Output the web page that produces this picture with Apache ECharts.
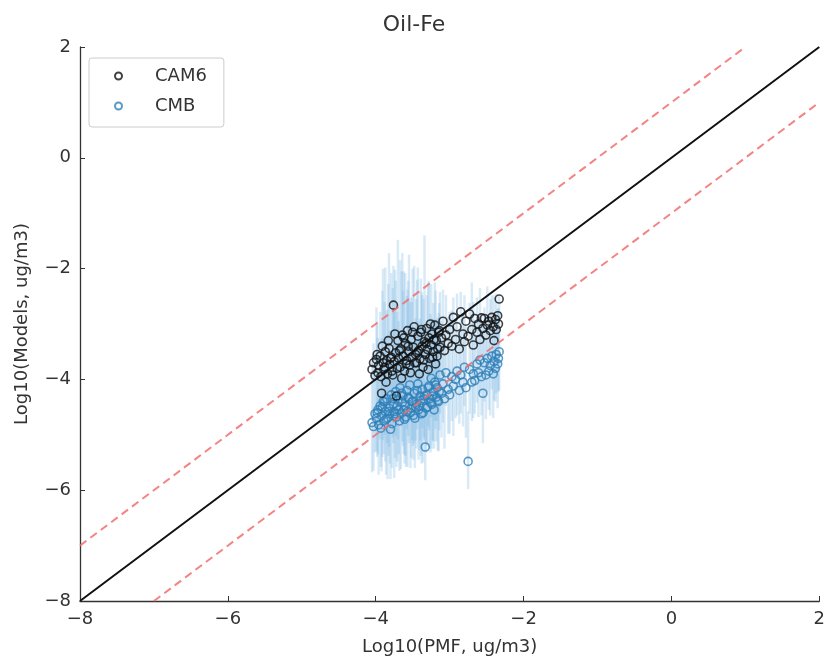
<!DOCTYPE html>
<html>
<head>
<meta charset="utf-8">
<title>Oil-Fe</title>
<script src="https://cdn.jsdelivr.net/npm/echarts@6/dist/echarts.min.js"></script>
<style>
  html, body { margin: 0; padding: 0; background: #fff; }
  #chart { width: 828px; height: 663px; }
</style>
</head>
<body>
<div id="chart"></div>
<script>
// Log10 of PMF-derived oil Fe (one entry per sample)
const pmfLog = [
  -4.05, -4.03, -4.01, -3.99, -3.97, -3.96, -3.94, -3.92, -3.90, -3.89,
  -3.87, -3.85, -3.84, -3.82, -3.81, -3.79, -3.78, -3.76, -3.75, -3.73,
  -3.72, -3.70, -3.69, -3.67, -3.66, -3.64, -3.63, -3.61, -3.60, -3.58,
  -3.57, -3.55, -3.54, -3.52, -3.51, -3.49, -3.48, -3.46, -3.45, -3.43,
  -3.42, -3.40, -3.39, -3.37, -3.36, -3.34, -3.33, -3.31, -3.30, -3.28,
  -3.27, -3.25, -3.24, -3.22, -3.20, -3.18, -3.17, -3.15, -3.13, -3.11,
  -3.09, -3.07, -3.05, -3.02, -3.00, -2.97, -2.95, -2.92, -2.90, -2.87,
  -2.85, -2.82, -2.80, -2.78, -2.75, -2.73, -2.70, -2.68, -2.66, -2.63,
  -2.61, -2.59, -2.57, -2.55, -2.53, -2.51, -2.49, -2.47, -2.45, -2.43,
  -2.41, -2.40, -2.38, -2.37, -2.35, -2.34, -2.33,
  -3.98, -3.93, -3.91, -3.88, -3.86, -3.83, -3.80, -3.77, -3.74, -3.71,
  -3.68, -3.65, -3.62, -3.59, -3.56, -3.53, -3.50, -3.47, -3.44, -3.41,
  -3.38, -3.35, -3.32, -3.29, -3.26, -3.23, -3.21, -3.19, -3.16, -3.14
];

// Log10 of CAM6 modelled oil Fe
const cam6Log = [
  -3.82, -3.70, -3.93, -3.64, -3.88, -3.75, -3.58, -4.25, -3.70, -3.82,
  -3.50, -3.66, -3.90, -3.44, -3.73, -3.60, -3.85, -2.66, -3.68, -3.52,
  -4.30, -3.30, -3.62, -3.78, -3.45, -3.20, -3.58, -3.85, -3.35, -3.66,
  -3.12, -3.50, -3.74, -3.28, -3.60, -3.42, -3.05, -3.55, -3.70, -3.22,
  -3.48, -3.63, -3.15, -3.40, -3.78, -3.32, -3.55, -3.08, -3.46, -3.25,
  -3.62, -3.38, -3.18, -3.50, -3.02, -3.30, -3.58, -3.15, -3.42, -3.25,
  -2.95, -3.48, -3.20, -3.35, -3.10, -3.40, -2.88, -3.28, -3.05, -3.45,
  -2.78, -3.18, -3.32, -2.95, -3.22, -2.82, -3.10, -3.38, -2.90, -3.15,
  -3.00, -3.28, -2.89, -3.08, -2.90, -3.20, -3.02, -2.95, -3.12, -2.88,
  -3.05, -3.30, -2.92, -3.10, -2.85, -3.00, -2.55,
  -3.55, -3.95, -3.40, -3.78, -4.05, -3.30, -3.62, -3.92, -3.18, -3.80,
  -3.48, -3.98, -3.25, -3.72, -3.40, -3.88, -3.15, -3.70, -3.52, -3.90,
  -3.10, -3.65, -3.35, -3.82, -3.00, -3.60, -3.28, -3.72, -3.45, -3.12
];

// Log10 of CMB-derived oil Fe
const cmbLog = [
  -4.78, -4.85, -4.62, -4.70, -4.55, -4.82, -4.48, -4.66, -4.40, -4.75,
  -4.58, -4.35, -4.70, -4.52, -4.62, -4.28, -4.80, -4.45, -4.58, -4.22,
  -4.68, -4.38, -4.55, -4.15, -4.62, -4.42, -4.30, -4.72, -4.48, -4.20,
  -4.58, -4.35, -4.10, -4.52, -4.40, -4.65, -4.25, -4.50, -4.45, -4.08,
  -4.55, -4.30, -4.38, -4.18, -4.60, -4.30, -5.22, -4.28, -4.50, -4.12,
  -4.35, -3.98, -4.45, -4.22, -4.05, -4.32, -4.15, -4.40, -3.92, -4.25,
  -4.08, -4.35, -3.88, -4.18, -4.28, -3.95, -4.12, -4.00, -3.85, -4.20,
  -3.92, -4.05, -3.78, -4.15, -5.48, -3.82, -4.05, -3.90, -4.02, -3.72,
  -3.88, -3.65, -3.95, -4.25, -3.70, -3.92, -3.62, -3.85, -3.75, -3.58,
  -3.90, -3.68, -3.80, -3.55, -3.72, -3.62, -3.50,
  -4.60, -4.88, -4.50, -4.40, -4.72, -4.58, -4.90, -4.35, -4.62, -4.48,
  -4.75, -4.25, -4.55, -4.68, -4.32, -4.60, -4.40, -4.70, -4.20, -4.48,
  -4.62, -4.35, -4.52, -4.15, -4.42, -4.30, -4.55, -4.10, -4.38, -4.22
];

// Upper and lower error-bar lengths on the CMB values (log10 units)
const cmbErrUp = [
  1.2, 1.5, 1.1, 2.0, 1.3, 1.0, 1.7, 1.4, 2.4, 1.2,
  2.6, 1.6, 1.1, 2.8, 1.5, 2.2, 1.0, 2.5, 1.8, 2.0,
  1.3, 2.9, 1.6, 2.3, 1.4, 2.7, 1.9, 1.2, 2.4, 1.7,
  2.2, 2.6, 1.5, 2.0, 1.8, 1.3, 2.3, 1.6, 1.9, 2.1,
  1.6, 1.4, 2.2, 1.7, 1.3, 2.9, 1.2, 1.8, 1.4, 1.9,
  1.3, 1.7, 1.5, 1.6, 1.8, 1.4, 1.2, 1.6, 1.5, 1.3,
  1.7, 1.2, 1.4, 1.3, 1.5, 1.2, 1.6, 1.1, 1.4, 1.0,
  1.5, 1.2, 1.3, 1.1, 0.9, 1.2, 1.8, 1.3, 1.1, 1.2,
  1.0, 1.3, 1.1, 1.2, 1.0, 1.1, 1.3, 1.0, 1.2, 1.1,
  1.0, 1.2, 0.9, 1.1, 1.0, 0.9, 1.0,
  1.6, 1.3, 2.1, 1.8, 1.5, 2.3, 1.2, 2.0, 2.6, 1.7,
  1.4, 2.2, 2.5, 1.5, 2.1, 1.3, 2.4, 1.6, 2.0, 1.4,
  2.2, 1.8, 1.5, 1.9, 1.6, 1.4, 1.3, 1.7, 1.5, 1.6
];
const cmbErrDown = [
  0.9, 0.8, 0.7, 0.6, 0.8, 0.9, 0.6, 1.0, 0.7, 0.6,
  0.9, 0.8, 1.1, 0.7, 0.9, 0.6, 0.8, 0.7, 1.2, 0.8,
  0.9, 0.7, 0.8, 0.6, 1.0, 0.7, 0.9, 0.8, 0.9, 0.7,
  1.0, 0.8, 0.6, 0.9, 0.7, 0.8, 0.9, 0.6, 0.8, 0.7,
  0.9, 0.8, 1.0, 0.7, 0.9, 0.8, 0.6, 0.9, 0.7, 0.8,
  0.9, 0.7, 0.8, 0.9, 0.7, 0.8, 0.6, 0.9, 0.7, 0.8,
  0.7, 0.9, 0.6, 0.8, 0.7, 0.8, 0.9, 0.7, 0.8, 0.6,
  0.7, 0.8, 0.7, 0.9, 0.5, 0.8, 0.7, 0.8, 0.6, 0.7,
  0.8, 0.6, 0.7, 0.9, 0.7, 0.8, 0.6, 0.7, 0.9, 0.6,
  0.8, 0.7, 0.6, 0.7, 0.8, 0.6, 0.7,
  0.8, 0.7, 0.9, 0.6, 1.0, 0.8, 0.9, 0.7, 0.8, 1.0,
  0.9, 0.6, 0.8, 0.9, 0.7, 1.0, 0.8, 0.9, 0.7, 0.8,
  0.9, 0.7, 0.8, 0.7, 0.9, 0.8, 0.7, 0.8, 0.9, 0.7
];

// Axis range and ticks (both axes share them)
const axisMin = -8;
const axisMax = 2;
const tickStep = 2;

const cam6Points = pmfLog.map((x, i) => [x, cam6Log[i]]);
const cmbPoints = pmfLog.map((x, i) => [x, cmbLog[i]]);
const cmbBars = pmfLog.map((x, i) => [x, cmbLog[i] - cmbErrDown[i], cmbLog[i] + cmbErrUp[i]]);

const fontFamily = 'DejaVu Sans, sans-serif';
const textColor = '#333';
const chart = echarts.init(document.getElementById('chart'), null, { renderer: 'canvas' });

// Tick labels use a true minus sign
const tickFormatter = v => String(v).replace('-', '\u2212');

function refLine(name, offset, style) {
  // y = x + offset, clipped to the plotting range
  const x0 = Math.max(axisMin, axisMin - offset);
  const x1 = Math.min(axisMax, axisMax - offset);
  return {
    name: name,
    type: 'line',
    data: [[x0, x0 + offset], [x1, x1 + offset]],
    symbol: 'none',
    silent: true,
    z: 5,
    lineStyle: style,
    animation: false
  };
}

const axisCommon = {
  type: 'value',
  min: axisMin,
  max: axisMax,
  interval: tickStep,
  splitLine: { show: false },
  axisLine: { show: true, onZero: false, lineStyle: { color: '#333', width: 1.3 } },
  axisTick: { show: true, inside: true, length: 5, lineStyle: { color: '#333', width: 1 } },
  axisLabel: { color: textColor, fontSize: 18, fontFamily: fontFamily, margin: 9, formatter: tickFormatter },
  nameLocation: 'middle',
  nameTextStyle: { color: textColor, fontSize: 18, fontFamily: fontFamily }
};

chart.setOption({
  animation: false,
  backgroundColor: '#fff',
  title: {
    text: 'Oil-Fe',
    left: 'center',
    top: 9,
    textStyle: { color: textColor, fontSize: 22, fontWeight: 'normal', fontFamily: fontFamily }
  },
  grid: { left: 80, right: 6, top: 47, bottom: 62, containLabel: false },
  xAxis: Object.assign({}, axisCommon, {
    name: 'Log10(PMF, ug/m3)',
    nameGap: 37
  }),
  yAxis: Object.assign({}, axisCommon, {
    name: 'Log10(Models, ug/m3)',
    nameGap: 49
  }),
  legend: {
    left: 89,
    top: 58,
    orient: 'vertical',
    data: ['CAM6', 'CMB'],
    itemWidth: 7,
    itemHeight: 7,
    itemGap: 12,
    padding: [9, 17, 12, 25],
    borderColor: '#ccc',
    borderWidth: 1,
    borderRadius: 3,
    backgroundColor: '#fff',
    textStyle: { color: textColor, fontSize: 18, fontFamily: fontFamily, padding: [0, 0, 0, 28] }
  },
  series: [
    {
      name: 'CMB error',
      type: 'custom',
      data: cmbBars,
      z: 1,
      silent: true,
      renderItem: function (params, api) {
        const top = api.coord([api.value(0), api.value(2)]);
        const bottom = api.coord([api.value(0), api.value(1)]);
        return {
          type: 'line',
          shape: { x1: top[0], y1: top[1], x2: bottom[0], y2: bottom[1] },
          style: { stroke: 'rgba(120,180,225,0.28)', lineWidth: 2.5 }
        };
      },
      encode: { x: 0, y: [1, 2] }
    },
    {
      name: 'CMB',
      type: 'scatter',
      data: cmbPoints,
      symbol: 'circle',
      symbolSize: 8,
      z: 2,
      itemStyle: { color: 'rgba(0,0,0,0)', borderColor: '#2f7fb8', borderWidth: 1.6 }
    },
    {
      name: 'CAM6',
      type: 'scatter',
      data: cam6Points,
      symbol: 'circle',
      symbolSize: 8,
      z: 3,
      itemStyle: { color: 'rgba(0,0,0,0)', borderColor: '#111', borderWidth: 1.6 }
    },
    refLine('1:1', 0, { color: '#111', width: 2 }),
    refLine('+1', 1, { color: 'rgba(240,110,110,0.85)', width: 2, type: [8, 5] }),
    refLine('-1', -1, { color: 'rgba(240,110,110,0.85)', width: 2, type: [8, 5] })
  ]
});
</script>
</body>
</html>
